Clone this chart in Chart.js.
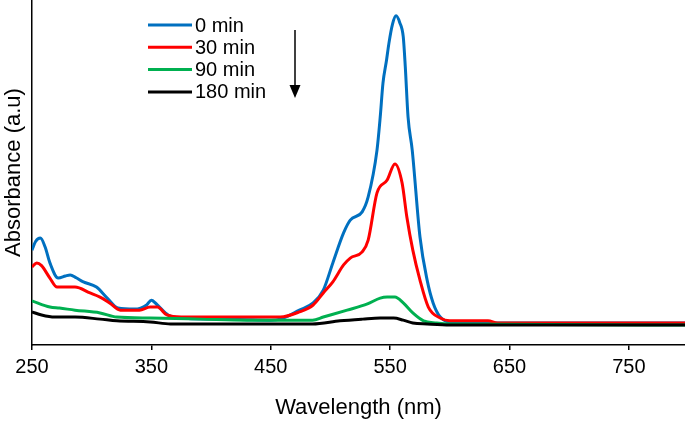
<!DOCTYPE html>
<html>
<head>
<meta charset="utf-8">
<script src="https://cdn.jsdelivr.net/npm/chart.js@4.4.1/dist/chart.umd.min.js"></script>
<style>
  body { margin: 0; background: #fff; }
  #wrap { width: 685px; height: 423px; position: relative; }
</style>
</head>
<body>
<div id="wrap"><canvas id="spectra"></canvas></div>
<script>
const xTicks = [250, 350, 450, 550, 650, 750];
const seriesNames = ['0 min', '30 min', '90 min', '180 min'];
const seriesColors = ['#0070C0', '#FF0000', '#00B050', '#000000'];

const wl0 = [250, 253, 257, 261, 265, 272, 278, 282, 287, 293, 304, 313, 322, 336, 346, 350, 355, 364, 375, 400, 424, 450, 458, 474, 485.5, 494, 502, 511, 516.6, 526.6, 531.6, 539, 541.7, 544, 547, 549, 552, 555, 558, 561, 562.7, 565, 568.5, 575, 581, 586, 592, 600, 650, 797];
const abs0 = [0.275, 0.300, 0.310, 0.284, 0.238, 0.194, 0.200, 0.203, 0.195, 0.183, 0.168, 0.136, 0.107, 0.104, 0.116, 0.130, 0.116, 0.087, 0.078, 0.075, 0.074, 0.072, 0.075, 0.101, 0.122, 0.159, 0.238, 0.325, 0.362, 0.386, 0.429, 0.565, 0.661, 0.759, 0.826, 0.875, 0.930, 0.954, 0.935, 0.893, 0.806, 0.661, 0.565, 0.313, 0.188, 0.122, 0.081, 0.067, 0.064, 0.064];

const wl30 = [250, 254, 258, 265, 271, 286, 298.6, 307, 315, 324, 340, 349, 355, 363, 375, 450, 458, 474, 485.5, 494, 502, 511, 516.6, 526.6, 531.6, 539, 547.5, 554, 560, 564, 569, 575, 582, 592, 600, 632, 640, 797];
const abs30 = [0.226, 0.238, 0.230, 0.194, 0.168, 0.168, 0.151, 0.139, 0.122, 0.101, 0.101, 0.110, 0.110, 0.087, 0.081, 0.081, 0.081, 0.096, 0.116, 0.151, 0.183, 0.232, 0.252, 0.270, 0.304, 0.441, 0.478, 0.525, 0.470, 0.371, 0.275, 0.188, 0.110, 0.078, 0.070, 0.070, 0.064, 0.064];

const wl90 = [250, 265, 273, 286, 307, 321, 349, 391, 430, 485, 494, 514, 531, 541.7, 547.5, 554, 561, 569, 578, 589, 600, 797];
const abs90 = [0.128, 0.110, 0.107, 0.101, 0.093, 0.081, 0.078, 0.075, 0.072, 0.072, 0.081, 0.101, 0.119, 0.136, 0.139, 0.139, 0.122, 0.093, 0.070, 0.064, 0.061, 0.058];

const wl180 = [250, 258, 269, 286, 307, 321, 349, 366, 485, 508, 527, 541.7, 553, 561, 569, 581, 600, 797];
const abs180 = [0.096, 0.087, 0.081, 0.081, 0.075, 0.070, 0.067, 0.061, 0.061, 0.070, 0.075, 0.078, 0.078, 0.072, 0.064, 0.061, 0.058, 0.058];

const allWl = [wl0, wl30, wl90, wl180];
const allAbs = [abs0, abs30, abs90, abs180];

const FONT = '"Liberation Sans", Arial, sans-serif';

const legendAndArrow = {
    id: 'legendAndArrow',
    afterDraw(chart) {
        const ctx = chart.ctx;
        ctx.save();
        chart.data.datasets.forEach((ds, i) => {
            const y = 25 + i * 22.3;
            ctx.strokeStyle = ds.borderColor;
            ctx.lineWidth = 3;
            ctx.beginPath();
            ctx.moveTo(148, y);
            ctx.lineTo(192, y);
            ctx.stroke();
            ctx.fillStyle = '#000';
            ctx.font = '20px ' + FONT;
            ctx.textBaseline = 'middle';
            ctx.fillText(ds.label, 195, y + 1);
        });
        // downward arrow
        ctx.strokeStyle = '#000';
        ctx.lineWidth = 1.5;
        ctx.beginPath();
        ctx.moveTo(295, 30);
        ctx.lineTo(295, 88);
        ctx.stroke();
        ctx.fillStyle = '#000';
        ctx.beginPath();
        ctx.moveTo(289.5, 85);
        ctx.lineTo(300.5, 85);
        ctx.lineTo(295, 98);
        ctx.closePath();
        ctx.fill();
        ctx.restore();
    }
};

const datasets = seriesNames.map((name, i) => ({
    label: name,
    data: allWl[i].map((w, j) => ({ x: w, y: allAbs[i][j] })),
    borderColor: seriesColors[i],
    borderWidth: 3,
    pointRadius: 0,
    cubicInterpolationMode: 'monotone',
    order: seriesNames.length - i
}));

new Chart(document.getElementById('spectra'), {
    type: 'line',
    data: { datasets },
    options: {
        responsive: true,
        maintainAspectRatio: false,
        animation: false,
        layout: { padding: 0 },
        plugins: { legend: { display: false }, tooltip: { enabled: false } },
        scales: {
            x: {
                type: 'linear',
                min: 250,
                max: 797,
                afterBuildTicks: scale => { scale.ticks = xTicks.map(v => ({ value: v })); },
                afterFit: scale => { scale.height = 78; },
                border: { display: true, color: '#000', width: 1.5 },
                grid: { display: true, drawOnChartArea: false, drawTicks: true, tickLength: 5, color: '#000', lineWidth: 1.5 },
                ticks: { color: '#000', font: { family: FONT, size: 20 }, padding: 5, maxRotation: 0 },
                title: { display: true, text: 'Wavelength (nm)', color: '#000', font: { family: FONT, size: 22 }, padding: { top: 0, bottom: 2 } }
            },
            y: {
                min: 0,
                max: 1,
                afterFit: scale => { scale.width = 32; },
                border: { display: true, color: '#000', width: 1.5 },
                grid: { display: false },
                ticks: { display: false },
                title: { display: true, text: 'Absorbance (a.u)', color: '#000', font: { family: FONT, size: 22 }, padding: { top: 1, bottom: 0 } }
            }
        }
    },
    plugins: [legendAndArrow]
});
</script>
</body>
</html>
